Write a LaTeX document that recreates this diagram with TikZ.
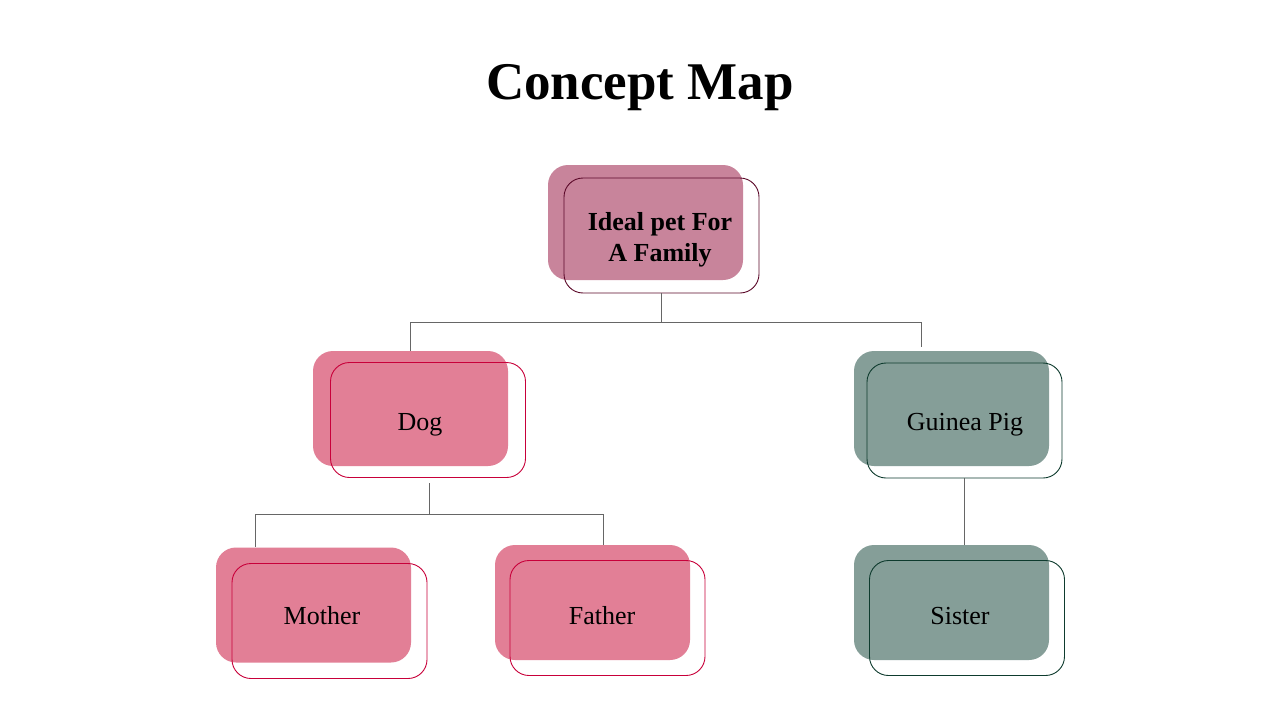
\documentclass[tikz,border=0pt]{standalone}
\usepackage{fontspec}
\setmainfont{Liberation Serif}
\definecolor{topfill}{HTML}{C8849B}
\definecolor{topline}{HTML}{5C0A2A}
\definecolor{pinkfill}{HTML}{E27F96}
\definecolor{pinkline}{HTML}{C8003A}
\definecolor{greenfill}{HTML}{859E98}
\definecolor{greenline}{HTML}{0E3B2E}
\definecolor{conn}{HTML}{666666}
\tikzset{
  bgbox/.style={fill=#1, draw=none, rounded corners=20pt, minimum width=195pt, minimum height=115pt, inner sep=0pt},
  outbox/.style={draw=#1, line width=0.9pt, rounded corners=19pt, minimum width=195pt, minimum height=115pt, inner sep=0pt},
  lbl/.style={font=\fontsize{26}{31}\selectfont, text=black, inner sep=0pt, align=center},
  connector/.style={draw=conn, line width=0.9pt}
}
\begin{document}
\begin{tikzpicture}[x=1pt,y=-1pt]
\useasboundingbox[fill=white] (0,0) rectangle (1280,720);
\node[font=\fontsize{53}{60}\selectfont\bfseries, inner sep=0pt] (title) at (640,88) {Concept Map};
% top
\node[bgbox=topfill] (topbg) at (645.5,222.5) {};
\node[outbox=topline] (top) at (661.5,235.5) {};
\node[lbl, font=\fontsize{26}{31}\selectfont\bfseries] (topT) at (660,240) {Ideal pet For\\A Family};
% dog
\node[bgbox=pinkfill] (dogbg) at (410.5,408.5) {};
\node[outbox=pinkline] (dog) at (428,420) {};
\node[lbl] (dogT) at (420,425) {Dog};
% guinea pig
\node[bgbox=greenfill] (gpbg) at (951.5,408.5) {};
\node[outbox=greenline] (gp) at (964.5,420.5) {};
\node[lbl] (gpT) at (965,425) {Guinea Pig};
% mother
\node[bgbox=pinkfill] (motbg) at (313.5,605) {};
\node[outbox=pinkline] (mot) at (329.5,621) {};
\node[lbl] (motT) at (322,616) {Mother};
% father
\node[bgbox=pinkfill] (fatbg) at (592.5,602.5) {};
\node[outbox=pinkline] (fat) at (607.5,618) {};
\node[lbl] (fatT) at (602,616) {Father};
% sister
\node[bgbox=greenfill] (sisbg) at (951.5,602.5) {};
\node[outbox=greenline] (sis) at (967,618) {};
\node[lbl] (sisT) at (960,616) {Sister};
% connectors
\coordinate (j1) at (661.5,322);
\coordinate (gpin) at (921,347);
\draw[connector] (top.south) -- (j1);
\draw[connector] (j1) -| (dogbg.north);
\draw[connector] (j1) -| (gpin);
\coordinate (dogout) at (429,483);
\coordinate (j2) at (429,514);
\coordinate (motin) at (255,547);
\coordinate (fatin) at (603,545);
\draw[connector] (dogout) -- (j2);
\draw[connector] (j2) -| (motin);
\draw[connector] (j2) -| (fatin);
\draw[connector] (gp.south) -- (gp.south |- sisbg.north);
\end{tikzpicture}
\end{document}
